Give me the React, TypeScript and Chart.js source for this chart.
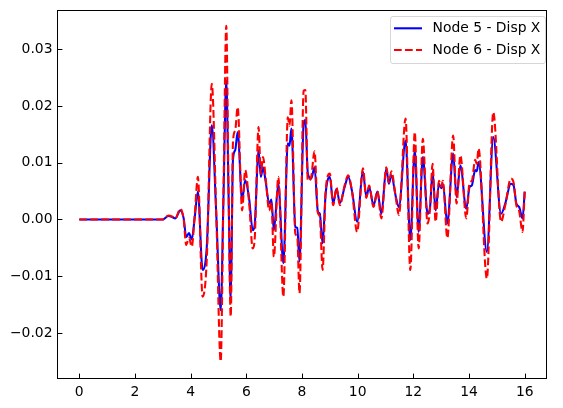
import React, { useEffect, useRef } from 'react';
import { Chart, registerables } from 'chart.js';

Chart.register(...registerables);

const time = [0, 3.0, 3.2, 3.35, 3.45, 3.63, 3.75, 3.84, 3.94, 4.04, 4.15, 4.26, 4.43, 4.58, 4.76, 4.92, 5.08, 5.18, 5.28, 5.36, 5.44, 5.52, 5.6, 5.69, 5.85, 5.96, 6.1, 6.23, 6.3, 6.44, 6.52, 6.6, 6.7, 6.82, 6.9, 6.99, 7.15, 7.33, 7.49, 7.55, 7.62, 7.76, 7.83, 7.91, 8.06, 8.12, 8.21, 8.33, 8.45, 8.57, 8.64, 8.74, 8.85, 9.0, 9.12, 9.24, 9.36, 9.53, 9.66, 9.8, 9.98, 10.19, 10.31, 10.41, 10.57, 10.71, 10.85, 11.03, 11.12, 11.21, 11.37, 11.48, 11.72, 11.89, 12.05, 12.19, 12.34, 12.51, 12.6, 12.69, 12.8, 12.92, 13.0, 13.06, 13.22, 13.43, 13.55, 13.69, 13.9, 14.02, 14.1, 14.22, 14.28, 14.34, 14.64, 14.87, 15.15, 15.3, 15.5, 15.6, 15.7, 15.8, 15.92, 16.0];

const node5 = [0, 0, 0.0006, 0.0004, 0.0002, 0.0016, 0.0002, -0.0031, -0.0024, -0.0035, 0.0005, 0.0049, -0.0089, -0.0048, 0.0166, 0.001, -0.016, 0.004, 0.0245, 0.005, -0.0145, 0.0105, 0.0122, 0.0154, 0.0034, 0.0069, 0.0037, -0.0019, -0.001, 0.0122, 0.0075, 0.0092, 0.0065, 0.0028, 0.0035, -0.0019, 0.0063, -0.0077, 0.0134, 0.013, 0.016, -0.0013, -0.0015, -0.0074, 0.0169, 0.0175, 0.0081, 0.0072, 0.0092, 0.0014, 0.001, -0.0042, 0.0046, 0.0075, 0.0028, 0.0054, 0.0029, 0.0057, 0.0075, 0.0049, -0.0004, 0.0084, 0.004, 0.0057, 0.0025, 0.0049, 0.001, 0.009, 0.0063, 0.0078, 0.004, 0.0022, 0.0139, -0.0036, 0.0122, -0.0022, 0.011, 0.001, 0.0022, 0.0084, 0.0016, 0.0063, 0.0055, 0.0063, -0.0007, 0.0116, 0.004, 0.0095, 0.0019, 0.0057, 0.006, 0.0087, 0.0085, 0.0101, -0.0057, 0.0145, 0.001, 0.0028, 0.0063, 0.006, 0.0028, 0.0022, 0.0002, 0.0049];

const node6 = [0, 0, 0.0007, 0.0005, 0.0002, 0.0019, 0.0, -0.0045, -0.0032, -0.0048, 0.001, 0.0075, -0.0136, -0.007, 0.0239, 0.001, -0.025, 0.005, 0.0341, 0.006, -0.0171, 0.0135, 0.0157, 0.0198, 0.0016, 0.0087, 0.003, -0.0051, -0.0035, 0.0163, 0.008, 0.011, 0.007, 0.0016, 0.003, -0.0066, 0.0075, -0.0136, 0.018, 0.0165, 0.021, -0.0025, -0.003, -0.013, 0.0227, 0.0228, 0.0068, 0.0075, 0.012, 0.0012, 0.0005, -0.0089, 0.005, 0.0081, 0.0025, 0.0056, 0.0025, 0.006, 0.0078, 0.0048, -0.0022, 0.009, 0.0038, 0.006, 0.0022, 0.005, 0.0002, 0.0092, 0.0065, 0.0085, 0.0038, 0.0008, 0.0178, -0.0089, 0.0154, -0.0051, 0.0142, -0.0007, 0.002, 0.0098, -0.0004, 0.0068, 0.0058, 0.0068, -0.0033, 0.0148, 0.0028, 0.0113, 0.0002, 0.0065, 0.0068, 0.0105, 0.0098, 0.0125, -0.0104, 0.0189, -0.0004, 0.0025, 0.0072, 0.0065, 0.0025, 0.0015, -0.0022, 0.005];

const seriesLabels = ['Node 5 - Disp X', 'Node 6 - Disp X'];
const xTicks = [0, 2, 4, 6, 8, 10, 12, 14, 16];
const xTickLabels = ['0', '2', '4', '6', '8', '10', '12', '14', '16'];
const yTicks = [-0.02, -0.01, 0, 0.01, 0.02, 0.03];
const yTickLabels = ['\u22120.02', '\u22120.01', '0.00', '0.01', '0.02', '0.03'];

const FONT = "'DejaVu Sans', sans-serif";
const FS = 13.9;
const BLUE = '#0000ff';
const RED = '#ff0000';
const LW = 2.08;
const DASH = [7.7, 3.3];

const framePlugin = {
  id: 'framePlugin',
  afterDatasetsDraw(chart: any) {
    const { ctx, chartArea, scales } = chart;
    const { left, right, top, bottom } = chartArea;
    ctx.save();
    ctx.strokeStyle = '#000';
    ctx.lineWidth = 1;
    const L = Math.round(left) + 0.5;
    const R = Math.round(right) - 0.5;
    const T = Math.round(top) + 0.5;
    const B = Math.round(bottom) - 0.5;
    ctx.strokeRect(L, T, R - L, B - T);
    const tl = 4.9;
    ctx.beginPath();
    xTicks.forEach((v) => {
      const x = Math.round(scales.x.getPixelForValue(v)) + 0.5;
      ctx.moveTo(x, B);
      ctx.lineTo(x, B - tl);
    });
    yTicks.forEach((v) => {
      const y = Math.round(scales.y.getPixelForValue(v)) + 0.5;
      ctx.moveTo(L, y);
      ctx.lineTo(L + tl, y);
    });
    ctx.stroke();

    // legend
    const lx = 390.5, ly = 16.5, lw = 155, lh = 47, r = 2.5;
    ctx.beginPath();
    ctx.moveTo(lx + r, ly);
    ctx.lineTo(lx + lw - r, ly);
    ctx.quadraticCurveTo(lx + lw, ly, lx + lw, ly + r);
    ctx.lineTo(lx + lw, ly + lh - r);
    ctx.quadraticCurveTo(lx + lw, ly + lh, lx + lw - r, ly + lh);
    ctx.lineTo(lx + r, ly + lh);
    ctx.quadraticCurveTo(lx, ly + lh, lx, ly + lh - r);
    ctx.lineTo(lx, ly + r);
    ctx.quadraticCurveTo(lx, ly, lx + r, ly);
    ctx.closePath();
    ctx.fillStyle = 'rgba(255,255,255,0.8)';
    ctx.fill();
    ctx.strokeStyle = 'rgba(204,204,204,0.8)';
    ctx.lineWidth = 1;
    ctx.stroke();

    const rows = [
      { y: 28.3, color: BLUE, dash: [] as number[] },
      { y: 50, color: RED, dash: DASH },
    ];
    ctx.font = `${FS}px ${FONT}`;
    ctx.textBaseline = 'middle';
    ctx.textAlign = 'left';
    rows.forEach((row, i) => {
      ctx.beginPath();
      ctx.setLineDash(row.dash);
      ctx.strokeStyle = row.color;
      ctx.lineWidth = LW;
      ctx.moveTo(394, row.y);
      ctx.lineTo(422, row.y);
      ctx.stroke();
      ctx.setLineDash([]);
      ctx.fillStyle = '#000';
      ctx.fillText(seriesLabels[i], 432.5, row.y + 0.5);
    });
    ctx.restore();
  },
};

export default function App() {
  const canvasRef = useRef<HTMLCanvasElement | null>(null);

  useEffect(() => {
    document.body.style.margin = '0';
    const canvas = canvasRef.current;
    if (!canvas) return;
    const chart = new Chart(canvas, {
      type: 'line',
      data: {
        datasets: [
          {
            label: seriesLabels[0],
            data: time.map((t, i) => ({ x: t, y: node5[i] })),
            borderColor: BLUE,
            borderWidth: LW,
            pointRadius: 0,
            fill: false,
            cubicInterpolationMode: 'monotone',
            order: 1,
          },
          {
            label: seriesLabels[1],
            data: time.map((t, i) => ({ x: t, y: node6[i] })),
            borderColor: RED,
            borderWidth: LW,
            borderDash: DASH,
            pointRadius: 0,
            fill: false,
            cubicInterpolationMode: 'monotone',
            order: 0,
          },
        ],
      },
      options: {
        animation: false,
        responsive: false,
        devicePixelRatio: 1,
        layout: { padding: { left: 0, right: 16, top: 10, bottom: 0 } },
        plugins: {
          legend: { display: false },
          tooltip: { enabled: false },
        },
        scales: {
          x: {
            type: 'linear',
            min: -0.8,
            max: 16.8,
            grid: { display: false, drawTicks: false, tickLength: 0 },
            border: { display: false },
            afterBuildTicks: (scale: any) => {
              scale.ticks = xTicks.map((v) => ({ value: v }));
            },
            afterFit: (scale: any) => {
              scale.height = 29;
              scale.paddingLeft = 0;
              scale.paddingRight = 0;
            },
            ticks: {
              autoSkip: false,
              maxRotation: 0,
              padding: 5.5,
              color: '#000',
              font: { family: FONT, size: FS },
              callback: (v: any) => {
                const i = xTicks.indexOf(Number(v));
                return i >= 0 ? xTickLabels[i] : '';
              },
            },
          },
          y: {
            type: 'linear',
            min: -0.0281,
            max: 0.0369,
            grid: { display: false, drawTicks: false, tickLength: 0 },
            border: { display: false },
            afterBuildTicks: (scale: any) => {
              scale.ticks = yTicks.map((v) => ({ value: v }));
            },
            afterFit: (scale: any) => {
              scale.width = 57;
              scale.paddingTop = 0;
              scale.paddingBottom = 0;
            },
            ticks: {
              autoSkip: false,
              padding: 4.5,
              color: '#000',
              font: { family: FONT, size: FS },
              callback: (v: any) => {
                const i = yTicks.findIndex((t) => Math.abs(t - Number(v)) < 1e-9);
                return i >= 0 ? yTickLabels[i] : '';
              },
            },
          },
        },
      },
      plugins: [framePlugin],
    });
    return () => chart.destroy();
  }, []);

  return (
    <div style={{ position: 'absolute', left: 0, top: 0, width: 563, height: 408, background: '#fff' }}>
      <canvas ref={canvasRef} width={563} height={408} style={{ display: 'block', width: 563, height: 408 }} />
    </div>
  );
}
